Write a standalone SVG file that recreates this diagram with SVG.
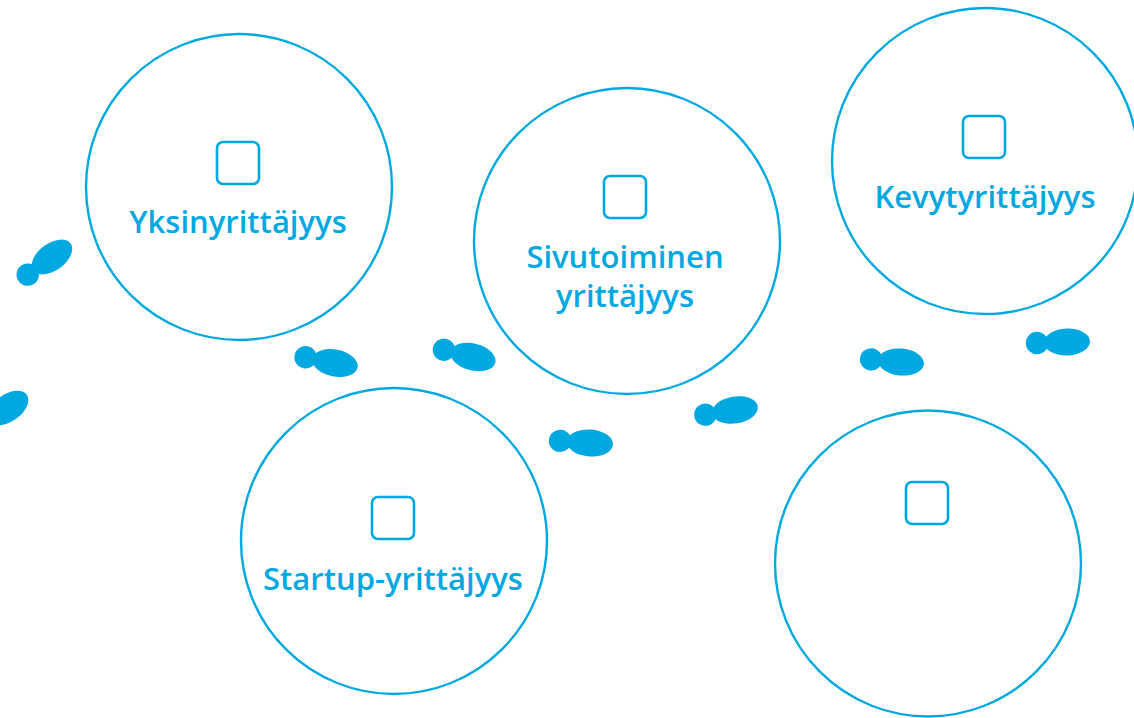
<svg xmlns="http://www.w3.org/2000/svg" xmlns:xlink="http://www.w3.org/1999/xlink" width="1134" height="718" viewBox="0 0 1134 718">
<style>
.ring{fill:#fff;stroke:#00a8e1;stroke-width:2.4}
.box{fill:none;stroke:#00a8e1;stroke-width:2.6}
.lbl{fill:#00a8e1;font-family:"Open Sans","Noto Sans",sans-serif;font-weight:600;font-size:31px;text-anchor:middle}
.fp{fill:#00a8e1}
</style>
<defs>
<g id="fp" class="fp"><ellipse cx="0" cy="0" rx="23" ry="13.5"/><circle cx="-30" cy="0" r="11.2"/></g>
</defs>
<rect width="1134" height="718" fill="#fff"/>
<g id="footprints">
<use xlink:href="#fp" href="#fp" transform="translate(52,257) rotate(-36)"/>
<use xlink:href="#fp" href="#fp" transform="translate(8,408) rotate(-35)"/>
<use xlink:href="#fp" href="#fp" transform="translate(335,363) rotate(11)"/>
<use xlink:href="#fp" href="#fp" transform="translate(473,357) rotate(14)"/>
<use xlink:href="#fp" href="#fp" transform="translate(590,443) rotate(4)"/>
<use xlink:href="#fp" href="#fp" transform="translate(735,410) rotate(-9)"/>
<use xlink:href="#fp" href="#fp" transform="translate(901,362) rotate(5)"/>
<use xlink:href="#fp" href="#fp" transform="translate(1067,342) rotate(-2)"/>
</g>
<g id="node-yksin">
<circle class="ring" cx="239" cy="187" r="153"/>
<rect class="box" x="217" y="142" width="42" height="42" rx="6"/>
<text class="lbl" x="238" y="233">Yksinyrittäjyys</text>
</g>
<g id="node-sivu">
<circle class="ring" cx="627" cy="241" r="153"/>
<rect class="box" x="604" y="176" width="42" height="42" rx="6"/>
<text class="lbl" x="625" y="268">Sivutoiminen</text>
<text class="lbl" x="625" y="307">yrittäjyys</text>
</g>
<g id="node-kevyt">
<circle class="ring" cx="985" cy="161" r="153"/>
<rect class="box" x="963" y="116" width="42" height="42" rx="6"/>
<text class="lbl" x="985" y="208">Kevytyrittäjyys</text>
</g>
<g id="node-startup">
<circle class="ring" cx="394" cy="541" r="153"/>
<rect class="box" x="372" y="497" width="42" height="42" rx="6"/>
<text class="lbl" x="393" y="590">Startup-yrittäjyys</text>
</g>
<g id="node-empty">
<circle class="ring" cx="928" cy="563.5" r="153"/>
<rect class="box" x="906" y="482" width="42" height="42" rx="6"/>
</g>
</svg>
